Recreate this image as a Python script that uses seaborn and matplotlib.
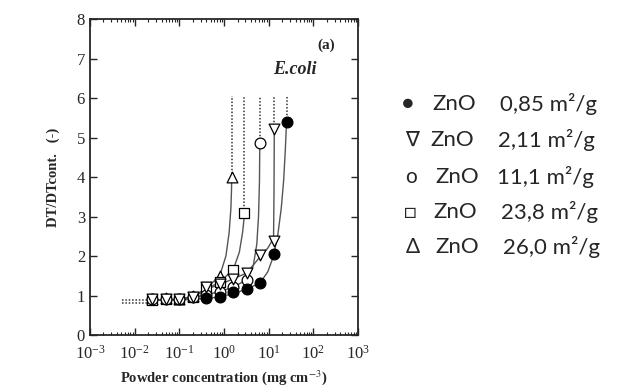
import numpy as np
import pandas as pd
import matplotlib
matplotlib.use("Agg")
import matplotlib.pyplot as plt
import seaborn as sns

# ---- data ----
series_names = ["0,85", "2,11", "11,1", "23,8", "26,0"]
markers = ["o", "v", "o", "s", "^"]
fills = ["black", "white", "white", "white", "white"]

# measured points
x_085 = [0.4, 0.8, 1.6, 3.2, 6.4, 12.8, 25.0]
y_085 = [0.93, 0.95, 1.08, 1.16, 1.31, 2.04, 5.40]
x_211 = [0.025, 0.05, 0.1, 0.2, 0.4, 0.8, 1.6, 3.2, 6.4, 12.8, 13.3]
y_211 = [0.90, 0.92, 0.90, 0.97, 1.21, 1.30, 1.42, 1.56, 2.03, 2.39, 5.21]
x_111 = [0.025, 0.05, 0.1, 0.2, 0.4, 0.8, 1.6, 3.2, 6.3]
y_111 = [0.90, 0.92, 0.90, 0.97, 1.02, 1.10, 1.21, 1.39, 4.87]
x_238 = [0.025, 0.05, 0.1, 0.2, 0.4, 0.8, 1.6, 2.85]
y_238 = [0.88, 0.92, 0.90, 0.97, 1.22, 1.35, 1.65, 3.08]
x_260 = [0.025, 0.05, 0.1, 0.2, 0.4, 0.8, 1.48]
y_260 = [0.90, 0.93, 0.91, 0.98, 1.18, 1.50, 4.01]

# fitted curves (knots)
cx_085 = [0.025, 0.1, 0.2, 0.4, 0.8, 1.6, 3.2, 6.4, 9.5, 12.8, 16, 19, 21.5, 23.5, 25.0]
cy_085 = [0.88, 0.89, 0.90, 0.93, 0.96, 1.05, 1.16, 1.32, 1.60, 2.00, 2.55, 3.20, 3.90, 4.70, 5.40]
cx_211 = [0.025, 0.1, 0.2, 0.4, 0.8, 1.6, 3.2, 6.4, 9.5, 12.8, 13.1, 13.3]
cy_211 = [0.88, 0.90, 0.96, 1.16, 1.28, 1.42, 1.57, 1.98, 2.20, 2.45, 3.60, 5.21]
cx_111 = [0.025, 0.1, 0.2, 0.4, 0.8, 1.6, 3.2, 4.5, 5.4, 5.9, 6.2, 6.3]
cy_111 = [0.88, 0.90, 0.95, 1.02, 1.10, 1.21, 1.40, 1.75, 2.30, 3.00, 3.90, 4.87]
cx_238 = [0.025, 0.1, 0.2, 0.4, 0.8, 1.6, 2.2, 2.6, 2.8, 2.85]
cy_238 = [0.88, 0.90, 0.97, 1.15, 1.35, 1.65, 2.10, 2.60, 2.95, 3.08]
cx_260 = [0.025, 0.1, 0.2, 0.4, 0.8, 1.1, 1.3, 1.42, 1.47, 1.48]
cy_260 = [0.88, 0.90, 0.98, 1.18, 1.50, 2.00, 2.60, 3.20, 3.70, 4.01]
dotted_top = 6.05
left_dot_x = [0.0051, 0.025]
left_dot_y = [0.88, 0.82]

xs = [x_085, x_211, x_111, x_238, x_260]
ys = [y_085, y_211, y_111, y_238, y_260]
cxs = [cx_085, cx_211, cx_111, cx_238, cx_260]
cys = [cy_085, cy_211, cy_111, cy_238, cy_260]

x_ticks = [1e-3, 1e-2, 1e-1, 1e0, 1e1, 1e2, 1e3]
y_ticks = [0, 1, 2, 3, 4, 5, 6, 7, 8]

# ---- style ----
sns.set_style("ticks")
plt.rcParams["font.family"] = ["Liberation Serif", "DejaVu Serif"]
plt.rcParams["mathtext.fontset"] = "stix"

fig = plt.figure(figsize=(6.4, 3.91), dpi=100)
ax = fig.add_axes([0.1406, 0.1432, 0.419, 0.808])

curve_rows = []
for name, cx, cy in zip(series_names, cxs, cys):
    for a, b in zip(cx, cy):
        curve_rows.append({"series": name, "x": a, "y": b})
curves = pd.DataFrame(curve_rows)
sns.lineplot(data=curves, x="x", y="y", units="series", estimator=None, sort=False,
             color="#555555", lw=1.0, ax=ax, legend=False)

# dotted vertical continuations
for name, cx, cy in zip(series_names, cxs, cys):
    d = pd.DataFrame({"x": [cx[-1], cx[-1]], "y": [cy[-1], dotted_top]})
    ln = sns.lineplot(data=d, x="x", y="y", sort=False, estimator=None, color="#333333",
                      lw=1.1, dashes=False, ax=ax, legend=False).lines[-1]
    ln.set_linestyle((0, (1.0, 1.2)))

# dotted horizontal lines at left
for yy in left_dot_y:
    d = pd.DataFrame({"x": left_dot_x, "y": [yy, yy]})
    ln = sns.lineplot(data=d, x="x", y="y", sort=False, estimator=None, color="#333333",
                      lw=1.1, dashes=False, ax=ax, legend=False).lines[-1]
    ln.set_linestyle((0, (1, 1.2)))

# markers (draw later series first so the black circles are on top)
order = [4, 3, 2, 1, 0]
for i in order:
    d = pd.DataFrame({"x": xs[i], "y": ys[i]})
    sns.scatterplot(data=d, x="x", y="y", marker=markers[i], s=60,
                    facecolor=fills[i], edgecolor="black", linewidth=0.9,
                    ax=ax, legend=False, zorder=3)

ax.set_xscale("log")
ax.set_xlim(1e-3, 1e3)
ax.set_ylim(0, 8)
ax.set_xticks(x_ticks)
ax.set_yticks(y_ticks)
ax.tick_params(which="both", direction="in", top=True, right=True, labelsize=12)
ax.tick_params(which="major", length=5, width=1)
ax.tick_params(which="minor", length=2.5, width=0.8)
ax.tick_params(axis="x", pad=7)
for sp in ax.spines.values():
    sp.set_linewidth(1.3)

ax.set_xlabel("Powder concentration (mg cm$^{-3}$)", fontsize=10.5, fontweight="bold", labelpad=4)
ax.set_ylabel("DT/DTcont.   (-)", fontsize=10.5, fontweight="bold", labelpad=12)

ax.text(0.914, 0.918, "(a)", transform=ax.transAxes, ha="right", va="center",
        fontsize=11, fontweight="bold")
ax.text(0.765, 0.839, "E.coli", transform=ax.transAxes, ha="center", va="center",
        fontsize=13, fontweight="bold", fontstyle="italic")

# legend text block on the right
leg_fam = ["Lato", "DejaVu Sans"]
sym_chars = ["●", "∇", "o", "□", "Δ"]
sym_sizes = [14, 15, 15, 15, 15]
row_y = [104, 140, 177, 212, 247]
zno_x = [432, 430, 435, 433, 435]
val_x = [500, 498, 497, 501, 503]
sym_x = [408, 412, 411, 410, 413]
for i in range(5):
    yy = 1 - row_y[i] / 391
    fig.text(sym_x[i] / 640, yy, sym_chars[i], ha="center", va="center",
             fontsize=sym_sizes[i], family=leg_fam)
    fig.text(zno_x[i] / 640, yy, "ZnO", ha="left", va="center", fontsize=16, family=leg_fam)
    fig.text(val_x[i] / 640, yy, series_names[i] + " m²/g", ha="left", va="center",
             fontsize=16, family=leg_fam)

fig.savefig("out.png", dpi=100)
